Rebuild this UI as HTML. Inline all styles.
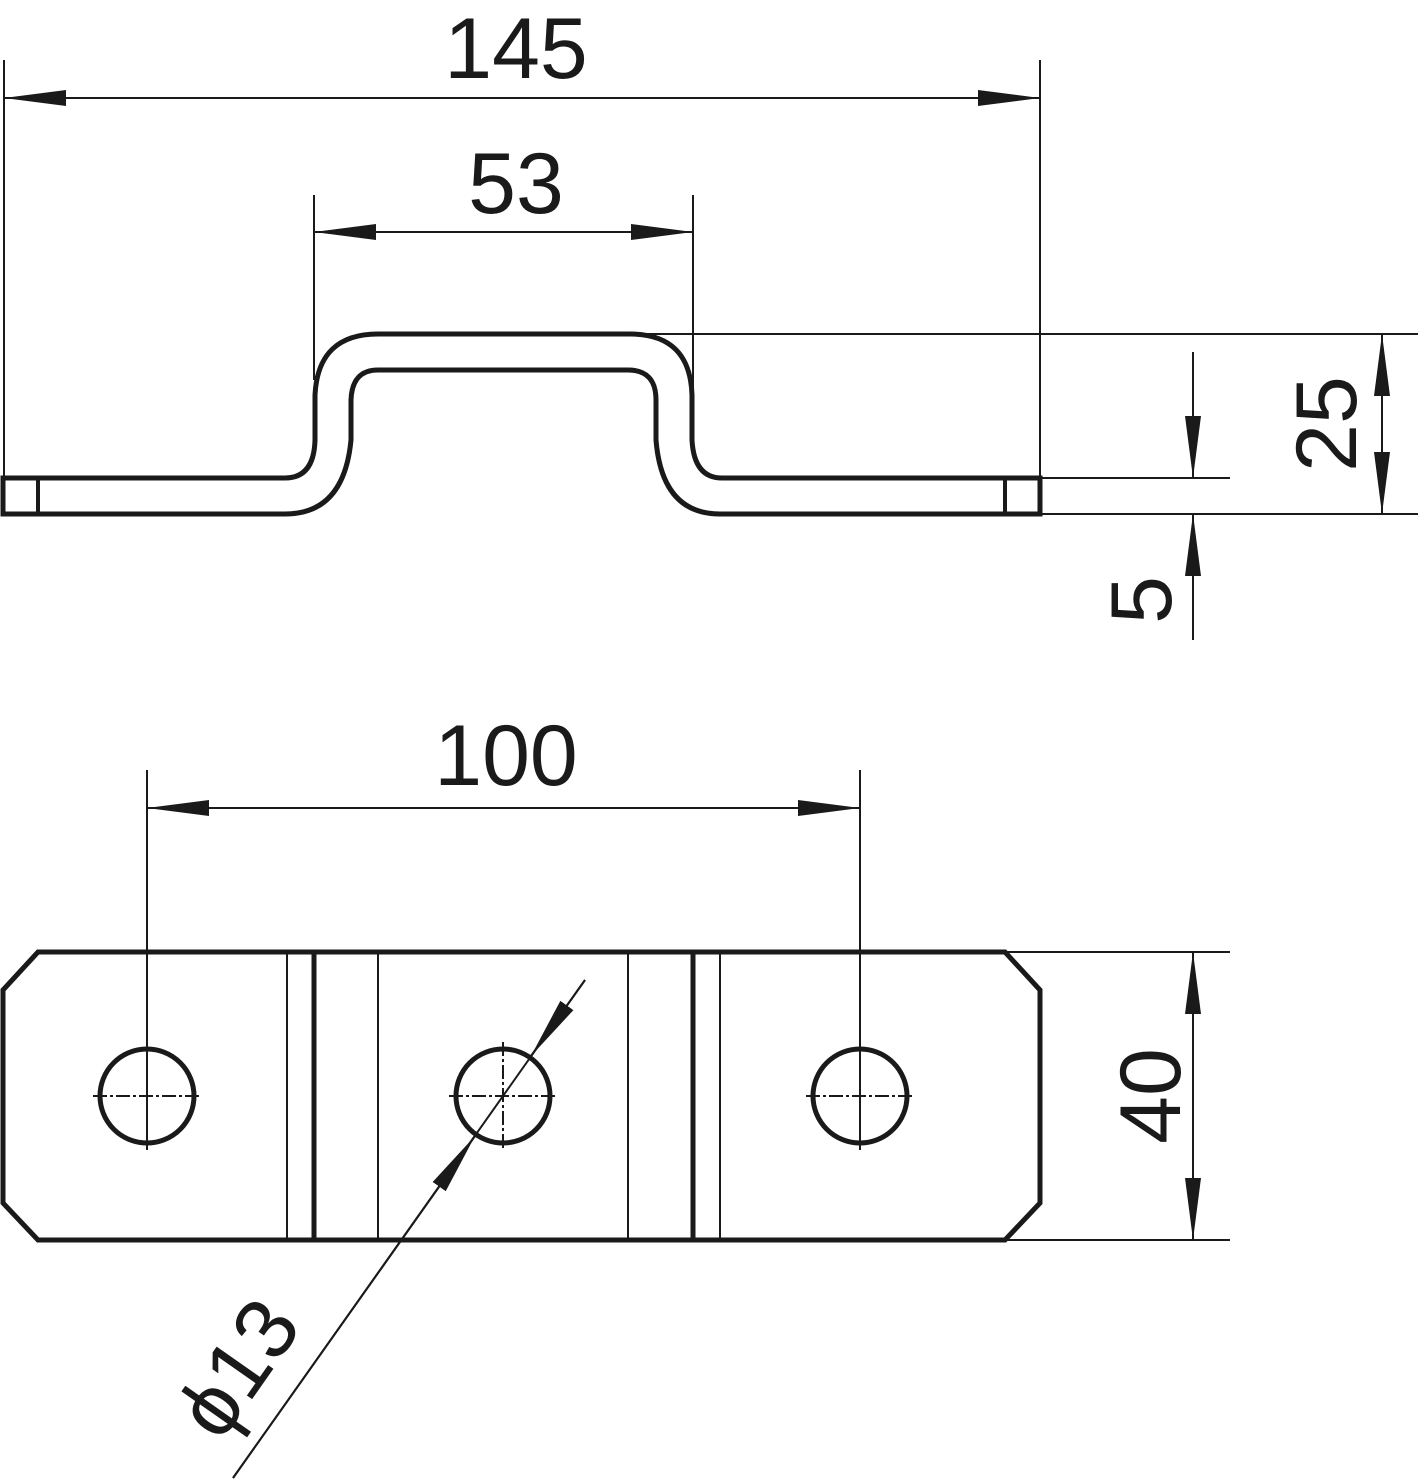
<!DOCTYPE html>
<html><head><style>html,body{margin:0;padding:0;background:#fff}svg{display:block}text{font-family:"Liberation Sans",sans-serif;fill:#1a1a1a}</style></head>
<body>
<svg width="1418" height="1479" viewBox="0 0 1418 1479" xmlns="http://www.w3.org/2000/svg">
<defs>
<marker id="a" markerWidth="62" markerHeight="16" refX="62" refY="8" orient="auto-start-reverse" markerUnits="userSpaceOnUse"><path d="M0,0 L62,8 L0,16 Z" fill="#1a1a1a"/></marker>
</defs>
<g stroke="#1a1a1a" fill="none" stroke-width="2">
<!-- extension lines top -->
<line x1="4" y1="60" x2="4" y2="478"/>
<line x1="1040" y1="60" x2="1040" y2="514"/>
<line x1="314" y1="195" x2="314" y2="380"/>
<line x1="693" y1="195" x2="693" y2="420"/>
<line x1="630" y1="334" x2="1418" y2="334"/>
<line x1="1040" y1="478" x2="1230" y2="478"/>
<line x1="1040" y1="514" x2="1418" y2="514"/>
<!-- dims -->
<line x1="4" y1="98" x2="1040" y2="98" marker-start="url(#a)" marker-end="url(#a)"/>
<line x1="314" y1="232" x2="693" y2="232" marker-start="url(#a)" marker-end="url(#a)"/>
<line x1="1382" y1="334" x2="1382" y2="514" marker-start="url(#a)" marker-end="url(#a)"/>
<line x1="1193" y1="352" x2="1193" y2="478" marker-end="url(#a)"/>
<line x1="1193" y1="640" x2="1193" y2="514" marker-end="url(#a)"/>
<!-- bottom dims -->
<line x1="147" y1="770" x2="147" y2="1150"/>
<line x1="860" y1="770" x2="860" y2="1150"/>
<line x1="147" y1="808" x2="860" y2="808" marker-start="url(#a)" marker-end="url(#a)"/>
<line x1="1005" y1="952" x2="1230" y2="952"/>
<line x1="1005" y1="1240" x2="1230" y2="1240"/>
<line x1="1193" y1="952" x2="1193" y2="1240" marker-start="url(#a)" marker-end="url(#a)"/>
<!-- phi13 leader -->
<line x1="585" y1="980" x2="233" y2="1478"/>
<line x1="585" y1="980" x2="531" y2="1056" marker-end="url(#a)"/>
<line x1="233" y1="1478" x2="475" y2="1136" marker-end="url(#a)"/>
</g>
<!-- top profile -->
<g stroke="#1a1a1a" fill="none" stroke-width="5">
<path d="M3,478 L285,478 Q314,478 315,440 L315,395 Q318,334 378,334 L630,334 Q690,334 692,395 L692,440 Q694,478 722,478 L1040,478 L1040,514 L720,514 Q662,514 656,440 L656,400 Q656,370 628,370 L378,370 Q352,370 351,400 L351,440 Q344,514 285,514 L3,514 Z"/>
<line x1="38" y1="478" x2="38" y2="514" stroke-width="4"/>
<line x1="1005" y1="478" x2="1005" y2="514" stroke-width="4"/>
<!-- plate -->
<path d="M38,952 L1005,952 L1040,990 L1040,1203 L1005,1240 L38,1240 L3,1203 L3,990 Z"/>
<line x1="314" y1="952" x2="314" y2="1240"/>
<line x1="693" y1="952" x2="693" y2="1240"/>
<circle cx="147" cy="1096" r="47"/>
<circle cx="503" cy="1096" r="47"/>
<circle cx="860" cy="1096" r="47"/>
</g>
<g stroke="#1a1a1a" stroke-width="2" fill="none">
<line x1="287" y1="952" x2="287" y2="1240"/>
<line x1="378" y1="952" x2="378" y2="1240"/>
<line x1="628" y1="952" x2="628" y2="1240"/>
<line x1="720" y1="952" x2="720" y2="1240"/>
<g stroke-dasharray="14,3,3,3">
<line x1="93" y1="1096" x2="201" y2="1096"/><line x1="147" y1="1042" x2="147" y2="1150"/>
<line x1="449" y1="1096" x2="557" y2="1096"/><line x1="503" y1="1042" x2="503" y2="1150"/>
<line x1="806" y1="1096" x2="914" y2="1096"/><line x1="860" y1="1042" x2="860" y2="1150"/>
</g>
</g>
<text x="516" y="78" font-size="86" text-anchor="middle">145</text>
<text x="516" y="213" font-size="86" text-anchor="middle">53</text>
<text x="506" y="785" font-size="86" text-anchor="middle">100</text>
<text transform="translate(1356,424) rotate(-90)" font-size="86" text-anchor="middle">25</text>
<text transform="translate(1171,600) rotate(-90)" font-size="86" text-anchor="middle">5</text>
<text transform="translate(1180,1096) rotate(-90)" font-size="86" text-anchor="middle">40</text>
<text transform="translate(262,1385) rotate(-55)" font-size="86" text-anchor="middle">ϕ13</text>
</svg>
</body></html>
